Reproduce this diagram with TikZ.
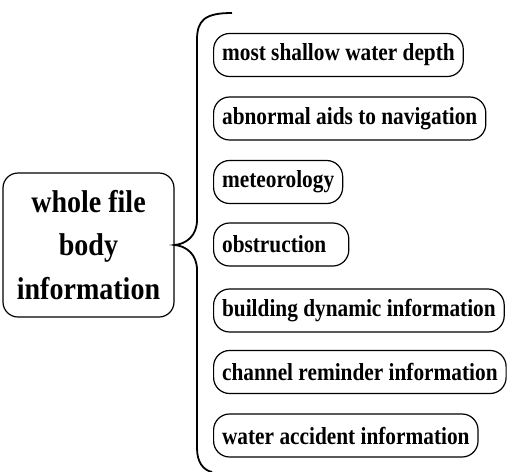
\documentclass[tikz,border=0pt]{standalone}
\usepackage{fontspec}
\newfontfamily\tnrmain[FakeStretch=0.89]{Liberation Serif}
\newfontfamily\tnrleaf[FakeStretch=0.87]{Liberation Serif}
\begin{document}
\begin{tikzpicture}[x=1pt,y=-1pt,
  mainbox/.style={draw,line width=1.2pt,rounded corners=15pt,minimum width=171pt,minimum height=144pt,
    align=center,font=\tnrmain\bfseries\fontsize{31.5}{43.5}\selectfont,inner sep=0pt},
  leaf/.style={draw,line width=1.2pt,rounded corners=16pt,minimum height=43pt,anchor=west,
    inner xsep=8.5pt,inner ysep=0pt,font=\tnrleaf\bfseries\fontsize{24.5}{26}\selectfont},
  bracket/.style={draw,line width=1.8pt}]
\useasboundingbox (0,0) rectangle (507,472);
\node[mainbox] (main) at (88.5,245) {whole file\\body\\information};
\node[leaf] (l1) at (213,55) {most shallow water depth};
\node[leaf] (l2) at (213,118.5) {abnormal aids to navigation};
\node[leaf] (l3) at (213,182) {meteorology};
\node[leaf] (l4) at (213,244.5) {obstruction\hspace*{14pt}};
\node[leaf] (l5) at (213,310.5) {building dynamic information};
\node[leaf] (l6) at (213,372) {channel reminder information};
\node[leaf] (l7) at (213,435.5) {water accident information};
\coordinate (btop) at (232,13);
\coordinate (bbot) at (212,472);
\draw[bracket] (btop) .. controls (205,13) and (197,20) .. (197,40) -- (197,220)
  .. controls (197,236) and (186,244) .. (main.east)
  .. controls (186,246) and (197,254) .. (197,270) -- (197,448)
  .. controls (197,462) and (203,470) .. (bbot);
\end{tikzpicture}
\end{document}
